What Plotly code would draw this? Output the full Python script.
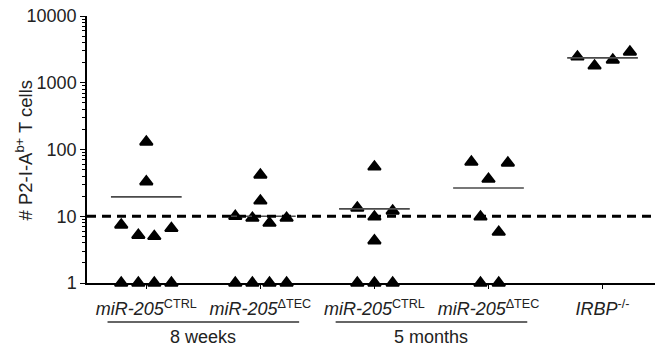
import plotly.graph_objects as go

categories = ["<i>miR-205</i><sup>CTRL</sup>", "<i>miR-205</i><sup>ΔTEC</sup>",
              "<i>miR-205</i><sup>CTRL</sup>", "<i>miR-205</i><sup>ΔTEC</sup>",
              "<i>IRBP</i><sup>-/-</sup>"]

g1_vals = [130, 33, 7.4, 5.2, 5.0, 6.6, 1, 1, 1, 1]
g1_jit = [0, 0, -0.22, -0.07, 0.07, 0.22, -0.22, -0.07, 0.07, 0.22]
g2_vals = [41.6, 17, 10, 9.4, 7.9, 9.4, 1, 1, 1, 1]
g2_jit = [0, 0, -0.22, -0.07, 0.08, 0.23, -0.22, -0.07, 0.08, 0.23]
g3_vals = [55, 13.3, 9.8, 12, 4.3, 1, 1, 1]
g3_jit = [0, -0.15, 0, 0.16, 0, -0.15, 0, 0.16]
g4_vals = [65, 36, 63, 9.8, 5.8, 1, 1]
g4_jit = [-0.15, 0, 0.17, -0.07, 0.09, -0.07, 0.09]
g5_vals = [2450, 1790, 2200, 2900]
g5_jit = [-0.22, -0.07, 0.09, 0.24]

means = [19.5, 10, 12.9, 26.5, 2360]
threshold = 10
ytick_vals = [1, 10, 100, 1000, 10000]
ytick_text = ["1", "10", "100", "1000", "10000"]
groups = [("8 weeks", 0, 1), ("5 months", 2, 3)]
y_title = "# P2-I-A<sup>b+</sup> T cells"

FONT = "Liberation Sans, Arial, Helvetica, sans-serif"

fig = go.Figure()

all_vals = [g1_vals, g2_vals, g3_vals, g4_vals, g5_vals]
all_jit = [g1_jit, g2_jit, g3_jit, g4_jit, g5_jit]

for i, (vals, jit) in enumerate(zip(all_vals, all_jit)):
    fig.add_trace(go.Scatter(
        x=[i + j for j in jit], y=vals, mode="markers",
        marker=dict(symbol="triangle-up", size=11, color="black",
                    line=dict(color="black", width=2)),
        cliponaxis=False, showlegend=False, hoverinfo="y"))

for i, m in enumerate(means):
    fig.add_trace(go.Scatter(
        x=[i - 0.31, i + 0.31], y=[m, m], mode="lines",
        line=dict(color="#4a4a4a", width=1.6),
        showlegend=False, hoverinfo="skip"))

fig.add_shape(type="line", xref="paper", yref="y", x0=0, x1=1, y0=threshold, y1=threshold,
              line=dict(color="black", width=3, dash="9px,6px"))

for label, a, b in groups:
    fig.add_shape(type="line", xref="x", yref="paper", x0=a - 0.34, x1=b + 0.34,
                  y0=-0.146, y1=-0.146, line=dict(color="#333", width=1.3))
    fig.add_annotation(x=(a + b) / 2, y=-0.203, xref="x", yref="paper", text=label,
                       showarrow=False, font=dict(family=FONT, size=18, color="#222"),
                       yanchor="middle")

fig.add_annotation(x=-0.111, y=0.5, xref="paper", yref="paper", text=y_title,
                   textangle=-90, showarrow=False, xanchor="center", yanchor="middle",
                   font=dict(family=FONT, size=18.5, color="#222"))

fig.update_xaxes(
    range=[-0.52, 4.46], tickvals=list(range(len(categories))), ticktext=categories,
    showline=True, linecolor="black", linewidth=1.5, ticks="outside", ticklen=4,
    tickcolor="black", showgrid=False, zeroline=False, ticklabelstandoff=5,
    automargin=False, ticklabeloverflow="allow",
    tickfont=dict(family=FONT, size=18, color="#222"))

fig.update_yaxes(
    type="log", range=[0, 4], tickvals=ytick_vals, ticktext=ytick_text,
    showline=True, linecolor="black", linewidth=1.5, ticks="outside", ticklen=5,
    tickcolor="black", showgrid=False, zeroline=False, automargin=False,
    ticklabeloverflow="allow",
    minor=dict(ticks="outside", ticklen=3, tickcolor="black", dtick="D1", showgrid=False),
    tickfont=dict(family=FONT, size=18, color="#222"))

fig.update_layout(
    width=655, height=352, margin=dict(l=87, r=0, t=16, b=69),
    plot_bgcolor="white", paper_bgcolor="white")

fig.write_html("out.html", config={"displayModeBar": False},
               post_script="document.body.style.margin='0';")
